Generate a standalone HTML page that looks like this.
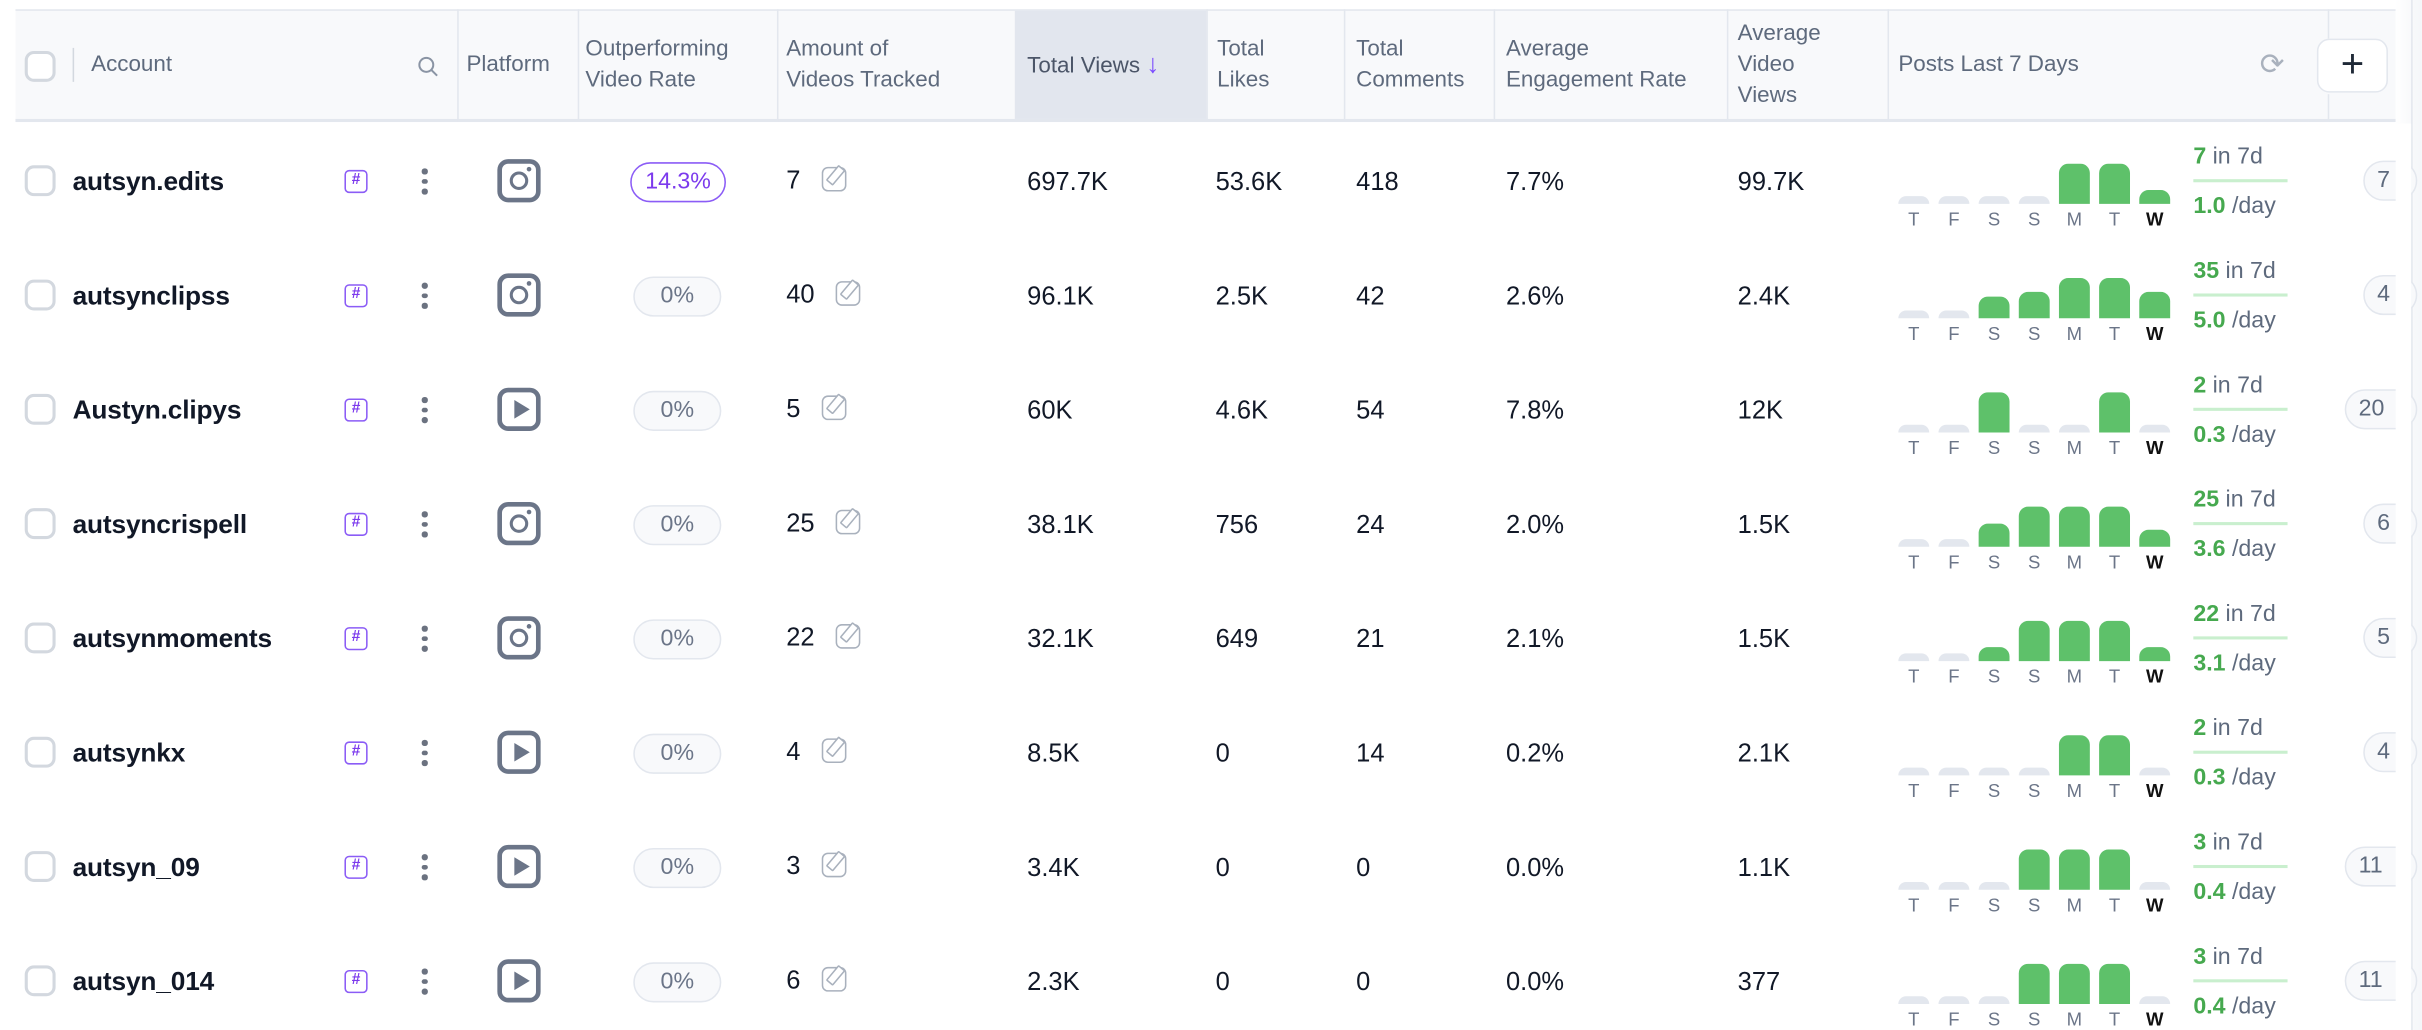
<!DOCTYPE html>
<html><head><meta charset="utf-8">
<style>
*{box-sizing:border-box;margin:0;padding:0}
html,body{width:2422px;height:1030px;overflow:hidden;background:#fff;font-family:"Liberation Sans",sans-serif}
#stage{position:absolute;left:0;top:0;width:1568px;height:667px;transform:scale(1.5446);transform-origin:0 0;overflow:hidden}
.abs{position:absolute}
.hdr{position:absolute;left:10px;top:6px;width:1541px;height:73px;background:#f8f9fb;border-top:1.5px solid #e3e7ee;border-bottom:2px solid #e3e7ee}
.sep{position:absolute;top:6px;width:1px;height:73px;background:#e3e7ee}
.ht{position:absolute;color:#5e6a7d;font-size:14.5px;line-height:20px}
.cb{position:absolute;width:20px;height:20px;border:2px solid #d3d8df;border-radius:6px;background:#fff}
.name{position:absolute;left:47px;font-size:17px;font-weight:bold;color:#111827;letter-spacing:-0.1px}
.cell{position:absolute;font-size:16.5px;color:#111827}
.hash{position:absolute;left:223px;width:15px;height:15px;border:1.3px solid #8b5cf6;border-radius:3px;color:#7c3aed;font-size:10px;font-weight:bold;text-align:center;line-height:12px}
.dots{position:absolute;left:273px;width:4px}
.dots i{display:block;width:3.5px;height:3.5px;border-radius:50%;background:#6b7280;margin-bottom:3px}
.plat{position:absolute;left:322px;width:28px;height:28px;border:3px solid #6b7588;border-radius:7px}
.pill{position:absolute;height:26px;border-radius:13px;text-align:center;line-height:23px;font-size:15px}
.edit{display:inline-block;width:16px;height:16px;border:1.5px solid #a9b1bd;border-radius:4px;margin-left:14px;vertical-align:-2px;position:relative}
.edit:after{content:"";position:absolute;left:5px;top:-2px;width:4px;height:11px;border:1.3px solid #a9b1bd;transform:rotate(40deg);background:#fff;border-radius:1px}
.bar{position:absolute;width:20px;border-radius:6px 6px 0 0}
.dl{position:absolute;width:20px;text-align:center;font-size:12px;color:#6b7588}
.g{color:#46a94f;font-weight:bold}
.stat{position:absolute;left:1420px;font-size:15px;color:#5e6a7d}
.gl{position:absolute;left:1420px;width:61px;height:1.5px;background:#c9efce}
.rp{position:absolute;height:26px;border:1.5px solid #e3e7ee;border-radius:13px;background:#f8f9fb;font-size:15px;color:#5e6a7d;line-height:23px;padding-left:8px}
</style></head><body>
<div id="stage">
  <div class="hdr"></div>
  <div class="abs" style="left:657px;top:7px;width:124px;height:70px;background:#e2e6ee"></div>
  <div class="sep" style="left:296px"></div><div class="sep" style="left:374px"></div><div class="sep" style="left:503px"></div>
  <div class="sep" style="left:781px"></div><div class="sep" style="left:870px"></div><div class="sep" style="left:967px"></div>
  <div class="sep" style="left:1118px"></div><div class="sep" style="left:1222px"></div><div class="sep" style="left:1507px;height:19px"></div><div class="sep" style="left:1507px;top:61px;height:18px"></div>
  <div class="cb" style="left:16px;top:33px"></div>
  <div class="abs" style="left:47px;top:31px;width:1px;height:22px;background:#d3d8df"></div>
  <div class="ht" style="left:59px;top:32px">Account</div>
  <svg class="abs" style="left:270px;top:36px" width="14" height="14"><circle cx="6" cy="6" r="4.5" fill="none" stroke="#8a94a4" stroke-width="1.3"/><line x1="9.5" y1="9.5" x2="13" y2="13" stroke="#8a94a4" stroke-width="1.3"/></svg>
  <div class="ht" style="left:302px;top:32px">Platform</div>
  <div class="ht" style="left:379px;top:22px">Outperforming<br>Video Rate</div>
  <div class="ht" style="left:509px;top:22px">Amount of<br>Videos Tracked</div>
  <div class="ht" style="left:665px;top:32px;color:#4b5568">Total Views <span style="color:#7c4dff;font-size:17px">↓</span></div>
  <div class="ht" style="left:788px;top:22px">Total<br>Likes</div>
  <div class="ht" style="left:878px;top:22px">Total<br>Comments</div>
  <div class="ht" style="left:975px;top:22px">Average<br>Engagement Rate</div>
  <div class="ht" style="left:1125px;top:12px">Average<br>Video<br>Views</div>
  <div class="ht" style="left:1229px;top:32px">Posts Last 7 Days</div>
  <div class="abs" style="left:1463px;top:31px;font-size:19px;color:#a9b1bd">⟳</div>
  <div class="abs" style="left:1500px;top:25px;width:46px;height:35px;border:1.5px solid #e3e7ee;border-radius:8px;background:#fff;text-align:center;line-height:31px;font-size:26px;color:#1f2937">+</div>
  <div class="abs" style="left:1551px;top:0;width:17px;height:667px;background:linear-gradient(90deg,#fff,#f4f6f9)"></div>
  <div class="abs" style="left:1561px;top:0;width:1px;height:667px;background:#e3e7ee"></div>
  <div id="rows"></div>
</div>
<script>
const accounts=["autsyn.edits","autsynclipss","Austyn.clipys","autsyncrispell","autsynmoments","autsynkx","autsyn_09","autsyn_014"];
const platforms=["ig","ig","yt","ig","ig","yt","yt","yt"];
const outperform=["14.3%","0%","0%","0%","0%","0%","0%","0%"];
const tracked=[7,40,5,25,22,4,3,6];
const views=["697.7K","96.1K","60K","38.1K","32.1K","8.5K","3.4K","2.3K"];
const likes=["53.6K","2.5K","4.6K","756","649","0","0","0"];
const comments=["418","42","54","24","21","14","0","0"];
const engagement=["7.7%","2.6%","7.8%","2.0%","2.1%","0.2%","0.0%","0.0%"];
const avgViews=["99.7K","2.4K","12K","1.5K","1.5K","2.1K","1.1K","377"];
const days=["T","F","S","S","M","T","W"];
const posts=[[0,0,0,0,3,3,1],[0,0,5,6,9,9,6],[0,0,1,0,0,1,0],[0,0,4,7,7,7,3],[0,0,2,6,6,6,2],[0,0,0,0,1,1,0],[0,0,0,1,1,1,0],[0,0,0,1,1,1,0]];
const totals=["7","35","2","25","22","2","3","3"];
const perDay=["1.0","5.0","0.3","3.6","3.1","0.3","0.4","0.4"];
const rightPill=["7","4","20","6","5","4","11","11"];
const root=document.getElementById('rows');
function rowY(i){return 117+i*74;}
function mk(cls,css,html){const d=document.createElement('div');if(cls)d.className=cls;d.style.cssText=css;if(html!==undefined)d.innerHTML=html;root.appendChild(d);return d;}
accounts.forEach((a,i)=>{
  const y=rowY(i);
  let e=mk('cb','left:16px;top:'+(y-10)+'px');
  
  
  e=mk('name','top:'+(y-9)+'px',a);
  
  
  e=mk('hash','top:'+(y-7)+'px','#');
  
  
  e=mk('dots','top:'+(y-8)+'px','<i></i><i></i><i></i>');
  
  
  e=mk('plat','top:'+(y-14)+'px',platforms[i]==='ig'
    ?'<div style="position:absolute;left:5px;top:5px;width:12px;height:12px;border:2.6px solid #6b7588;border-radius:50%"></div><div style="position:absolute;left:16px;top:2px;width:3px;height:3px;border-radius:50%;background:#6b7588"></div>'
    :'<div style="position:absolute;left:8px;top:5px;width:0;height:0;border-left:10px solid #6b7588;border-top:6px solid transparent;border-bottom:6px solid transparent"></div>');
  
  
  const hi=outperform[i]!=="0%";
  e=mk('pill',(hi?'left:408px;width:62px;border:1.5px solid #8b5cf6;color:#7c3aed;background:#fff;':'left:410px;width:57px;border:1.5px solid #e3e7ee;color:#6b7588;background:#f8f9fb;')+'top:'+(y-12)+'px',outperform[i]);
  
  
  e=mk('cell','left:509px;top:'+(y-9)+'px',tracked[i]+'<span class="edit"></span>');
  
  
  [[665,views,'total-views'],[787,likes,'total-likes'],[878,comments,'total-comments'],[975,engagement,'engagement-rate'],[1125,avgViews,'avg-video-views']].forEach(c=>{
    e=mk('cell','left:'+c[0]+'px;top:'+(y-8)+'px',c[1][i]);
    
    
  });
  const mx=Math.max(...posts[i],1);
  posts[i].forEach((v,d)=>{
    const x=1229+d*26;
    const h=v>0?Math.max(6,26*v/mx):5;
    e=mk('bar','left:'+x+'px;top:'+(y+15-h)+'px;height:'+h+'px;background:'+(v>0?'#5ec16a':'#e3e7ee'));
    
    
    e=mk('dl','left:'+x+'px;top:'+(y+18)+'px;'+(d===6?'color:#111;font-weight:bold':''),days[d]);
    
    
  });
  e=mk('stat','top:'+(y-24)+'px','<span class="g">'+totals[i]+'</span> in 7d');
  
  
  e=mk('gl','top:'+(y-1)+'px');
  e=mk('stat','top:'+(y+8)+'px','<span class="g">'+perDay[i]+'</span> /day');
  
  
  const w=rightPill[i].length>1?1518:1530;
  e=mk('rp','left:'+w+'px;top:'+(y-13)+'px;width:'+(1551-w+14)+'px',rightPill[i]);
  
  
});
mk('','position:absolute;left:1551px;top:80px;width:10px;height:587px;background:#fff');
</script>
</body></html>
